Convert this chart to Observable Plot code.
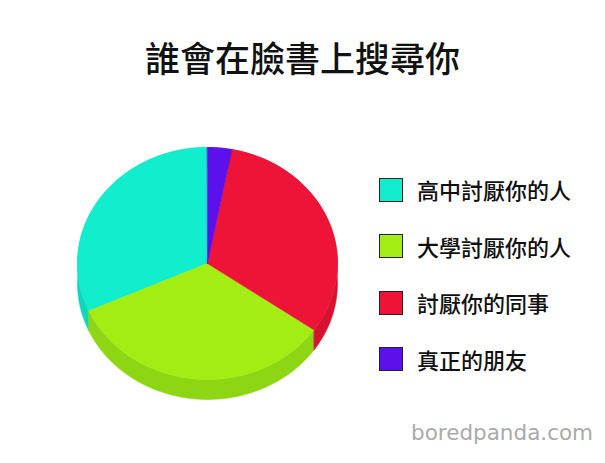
<!DOCTYPE html>
<html>
<head>
<meta charset="utf-8">
<script src="https://cdn.jsdelivr.net/npm/d3@7"></script>
<script src="https://cdn.jsdelivr.net/npm/@observablehq/plot@0.6"></script>
<style>
  html, body { margin: 0; padding: 0; background: #fff; }
  #wrap { position: relative; width: 605px; height: 463px; overflow: hidden; font-family: "Noto Sans CJK TC", "Noto Sans CJK SC", sans-serif; }
  #title { position: absolute; left: 0; width: 605px; top: 32px; text-align: center; font-size: 35px; font-weight: 500; color: #111; line-height: 50px; }
  #legend { position: absolute; left: 379px; top: 177px; }
  .item { display: flex; align-items: center; height: 25px; margin-bottom: 31.5px; }
  .sw { width: 22px; height: 22px; border: 1px solid #222; margin-right: 14px; }
  .lab { font-size: 22px; font-weight: 500; color: #111; line-height: 25px; }
  #wm { position: absolute; left: 411px; top: 420px; font-family: "DejaVu Sans", sans-serif; font-size: 21.5px; color: #aaaaaa; }
  #chart { position: absolute; left: 0; top: 0; }
</style>
</head>
<body>
<div id="wrap">
  <div id="chart"></div>
  <div id="title"></div>
  <div id="legend"></div>
  <div id="wm">boredpanda.com</div>
</div>
<script>
const title = "誰會在臉書上搜尋你";
const categories = ["高中討厭你的人", "大學討厭你的人", "討厭你的同事", "真正的朋友"];
const values = [31.7, 33.6, 31.7, 3.0];
const topColors = ["#11edcd", "#a3ec14", "#ee1438", "#5b10ec"];
const sideColors = ["#10d6ba", "#8ed513", "#d51230", "#4f0ed0"];

const depth = 0.172; // side thickness in ellipse units

const slices = d3.pie().sort(null).value(d => d.value)(
  categories.map((name, i) => ({name, value: values[i], top: topColors[i], side: sideColors[i]}))
);

// angles measured clockwise from top; this pie runs counterclockwise
function arcPts(s) {
  const a0 = -s.startAngle, a1 = -s.endAngle;
  const n = Math.max(2, Math.ceil(Math.abs(a1 - a0) / (Math.PI / 360)));
  const pts = [];
  for (let k = 0; k <= n; k++) {
    const a = a0 + (a1 - a0) * k / n;
    pts.push([Math.sin(a), Math.cos(a)]);
  }
  return pts;
}

const topPts = [];
const sidePts = [];
slices.forEach(s => {
  const pts = arcPts(s);
  const name = s.data.name;
  topPts.push({name, c: s.data.top, x: 0, y: 0});
  pts.forEach(([x, y]) => topPts.push({name, c: s.data.top, x, y}));
  pts.forEach(([x, y]) => sidePts.push({name, c: s.data.side, x, y}));
  pts.slice().reverse().forEach(([x, y]) => sidePts.push({name, c: s.data.side, x, y: y - depth}));
});

const plot = Plot.plot({
  width: 605,
  height: 463,
  margin: 0,
  x: {domain: [-1, 1], range: [77, 337], axis: null},
  y: {domain: [-1, 1], range: [379, 147], axis: null},
  color: {type: "identity"},
  marks: [
    Plot.line(sidePts, {x: "x", y: "y", z: "name", fill: "c", stroke: "c", strokeWidth: 0.6, curve: "linear-closed"}),
    Plot.line(topPts, {x: "x", y: "y", z: "name", fill: "c", stroke: "c", strokeWidth: 0.6, curve: "linear-closed"})
  ]
});
document.getElementById("chart").appendChild(plot);

document.getElementById("title").textContent = title;
const legend = document.getElementById("legend");
categories.forEach((name, i) => {
  const it = document.createElement("div");
  it.className = "item";
  const sw = document.createElement("div");
  sw.className = "sw";
  sw.style.background = topColors[i];
  const lab = document.createElement("div");
  lab.className = "lab";
  lab.textContent = name;
  it.appendChild(sw); it.appendChild(lab);
  legend.appendChild(it);
});
</script>
</body>
</html>
